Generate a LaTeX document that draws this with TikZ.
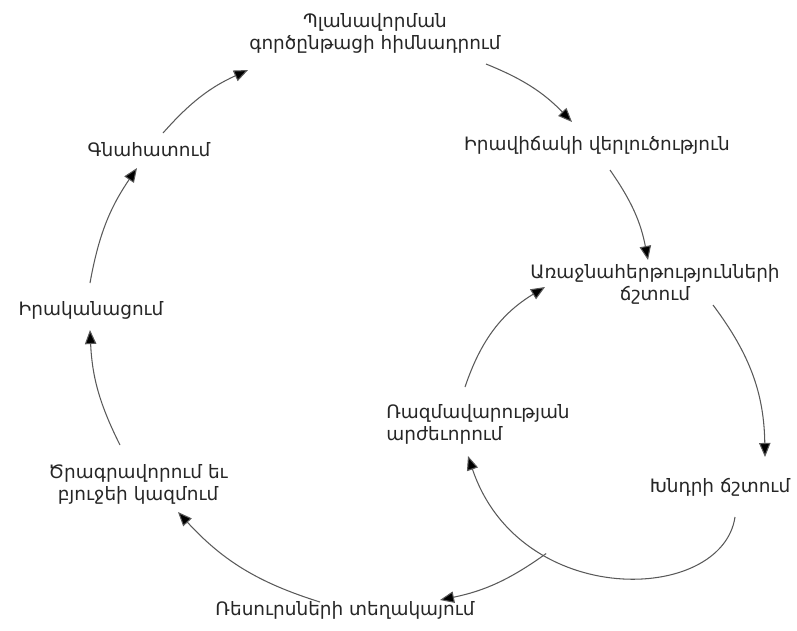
\documentclass[tikz,border=0pt]{standalone}
\usepackage{fontspec}
\setmainfont{DejaVu Sans}
\usetikzlibrary{arrows.meta,
                calc,
                positioning}

\begin{document}
\begin{tikzpicture}[
            x=0.02cm, y=-0.02cm,
            base/.style = {text=black!85, font=\fontsize{10.5}{12.5}\selectfont,
                    inner sep=2pt, align=center},
            stage/.style = {base},
            leftstage/.style = {base, align=left},
            arr/.style = {draw=black!65, line width=0.6pt,
                    -{Triangle[length=8pt, width=6.5pt, fill=black]}}]

        \useasboundingbox (0,0) rectangle (797,630);

        \node [stage] (plan)  at (375,33)  {Պլանավորման\\գործընթացի հիմնադրում};
        \node [stage] (sit)   at (597,145) {Իրավիճակի վերլուծություն};
        \node [stage] (prio)  at (655,284) {Առաջնահերթությունների\\ճշտում};
        \node [stage] (prob)  at (720,487) {Խնդրի ճշտում};
        \node [leftstage] (strat) at (478,424) {Ռազմավարության\\արժեւորում};
        \node [stage] (res)   at (345,610) {Ռեսուրսների տեղակայում};
        \node [stage] (prog)  at (138,484) {Ծրագրավորում եւ\\բյուջեի կազմում};
        \node [stage] (impl)  at (91,310)  {Իրականացում};
        \node [stage] (eval)  at (149,150) {Գնահատում};

        % outer cycle
        \draw [arr] ($(plan)+(111,31)$) to[bend left=12] ($(sit)+(-25,-23)$);
        \draw [arr] ($(sit)+(13,25)$)   to[bend left=12] ($(prio)+(-7,-24)$);
        \draw [arr] ($(res)+(-25,-8)$)  to[bend left=15] ($(prog)+(40,28)$);
        \draw [arr] ($(prog)+(-18,-39)$) to[bend left=12] ($(impl)+(-1,20)$);
        \draw [arr] ($(impl)+(-1,-27)$) to[bend left=12] ($(eval)+(-12,18)$);
        \draw [arr] ($(eval)+(14,-17)$) to[bend left=12] ($(plan)+(-127,37)$);
        % inner cycle
        \draw [arr] ($(prob)+(15,30)$) .. controls (722,604) and (520,610)
              .. coordinate[pos=0.7] (split) ($(strat)+(-10,32)$);
        \draw [arr] ($(prio)+(58,21)$) to[bend left=18] ($(prob)+(45,-30)$);
        \draw [arr] ($(strat)+(-13,-37)$) to[bend left=20] ($(prio)+(-110,3)$);
        % way out of the inner cycle
        \draw [arr] (split) to[bend left=12] ($(res)+(95,-10)$);
\end{tikzpicture}
\end{document}
